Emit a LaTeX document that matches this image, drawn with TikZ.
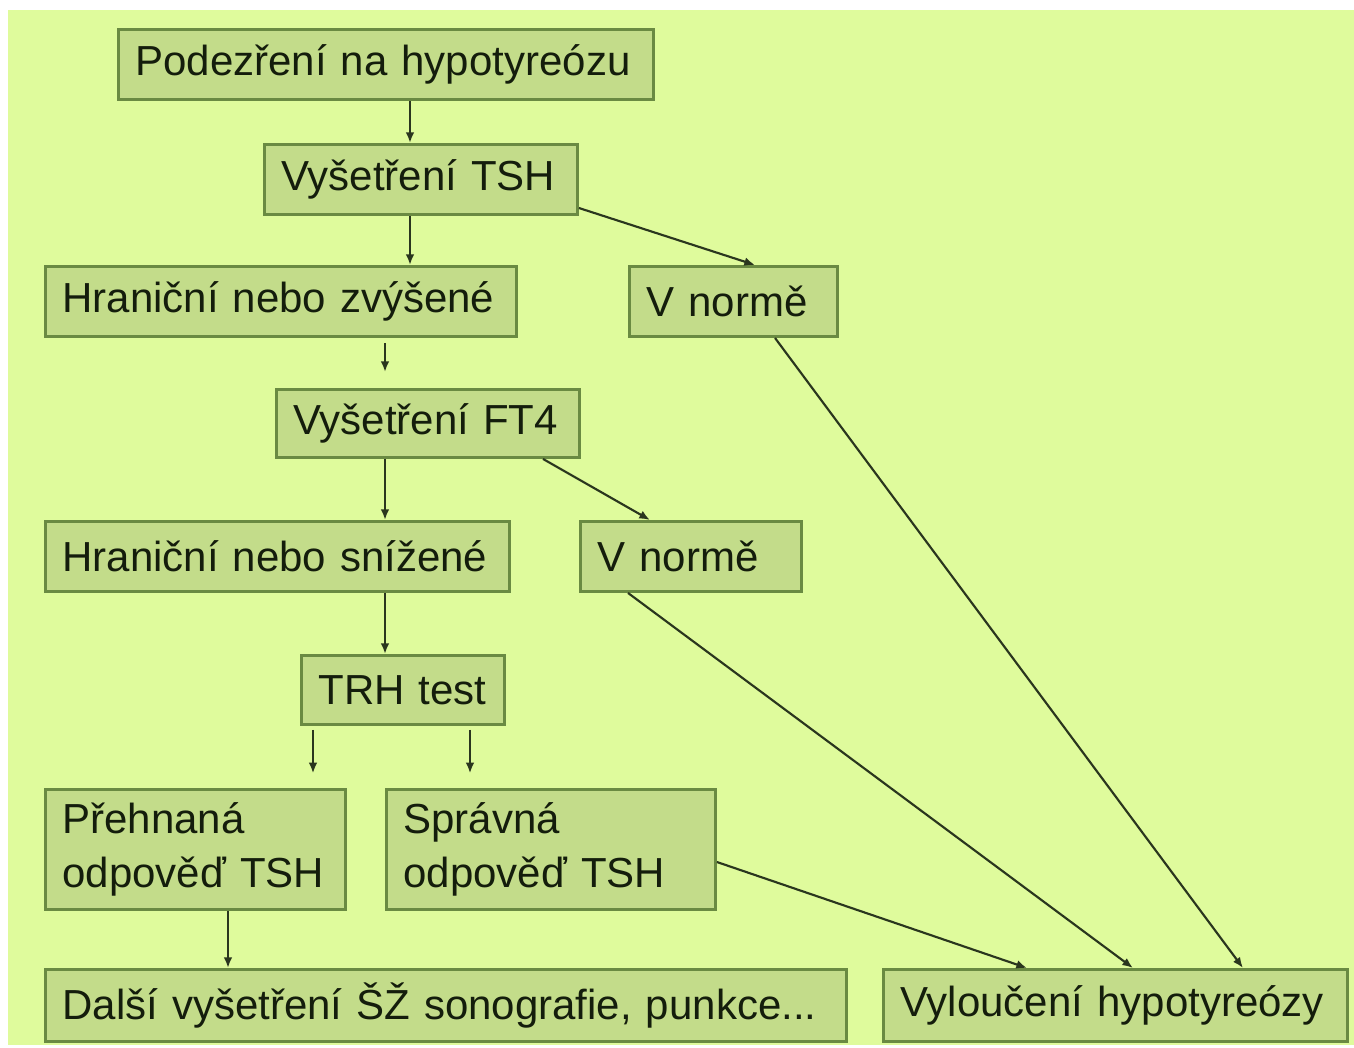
\documentclass[tikz,border=0pt]{standalone}
\usepackage{fontspec}
\setmainfont{Liberation Sans}
\usetikzlibrary{arrows.meta}
\definecolor{Mifondo}{HTML}{DFFB9C}
\definecolor{Micaja}{HTML}{C3DC8A}
\definecolor{Miborde}{HTML}{6A8A42}
\definecolor{Mitexto}{HTML}{141D0C}
\definecolor{Milinea}{HTML}{2A361E}

\begin{document}
\begin{tikzpicture}[x=0.75pt,y=-0.75pt,>={Latex[length=8pt,width=6.5pt]},
 caja/.style={draw=Miborde,line width=2.2pt,fill=Micaja,anchor=north west,inner xsep=12.75pt,inner ysep=0pt,align=left,text=Mitexto,font=\fontsize{31.5}{41}\selectfont},
 flecha/.style={->,draw=Milinea,line width=1.6pt}]
\useasboundingbox[fill=white] (0,0) rectangle (1354,1047);
\fill[Mifondo] (8,10) rectangle (1354,1045);

\node[caja,text width=375.75pt,minimum height=52.5pt] (podezreni) at (117,28) {Podezření na hypotyreózu};
\node[caja,text width=209.25pt,minimum height=52.5pt] (tsh) at (263,143) {Vyšetření TSH};
\node[caja,text width=327.75pt,minimum height=52.5pt] (zvysene) at (44,265) {Hraniční nebo zvýšené};
\node[caja,text width=130.5pt,minimum height=52.5pt] (norma1) at (628,265) {V normě};
\node[caja,text width=201.75pt,minimum height=51pt] (ft4) at (275,388) {Vyšetření FT4};
\node[caja,text width=322.5pt,minimum height=52.5pt] (snizene) at (44,520) {Hraniční nebo snížené};
\node[caja,text width=140.25pt,minimum height=52.5pt] (norma2) at (579,520) {V normě};
\node[caja,text width=126.75pt,minimum height=51.75pt] (trh) at (300,654) {TRH test};
\node[caja,text width=199.5pt,minimum height=90pt] (prehnana) at (44,788) {Přehnaná\\odpověď TSH};
\node[caja,text width=221.25pt,minimum height=90pt] (spravna) at (385,788) {Správná\\odpověď TSH};
\node[caja,text width=575.25pt,minimum height=54pt] (dalsi) at (44,968) {Další vyšetření ŠŽ sonografie, punkce...};
\node[caja,text width=322.5pt,minimum height=54pt] (vylouceni) at (882,968) {Vyloučení hypotyreózy};

\foreach \a/\b/\x in {podezreni/tsh/410, tsh/zvysene/410, ft4/snizene/385, snizene/trh/385, prehnana/dalsi/228}
\draw[flecha] (\a.south -| \x,0) -- (\b.north -| \x,0);
\draw[flecha,shorten <=4pt,shorten >=12pt] (zvysene.south -| 385,0) -- (ft4.north -| 385,0);
\foreach \x in {313,470}
\draw[flecha,shorten <=3pt,shorten >=11pt] (trh.south -| \x,0) -- (spravna.north -| \x,0);

\draw[flecha] (tsh.east |- 0,208) -- (norma1.north -| 755,0);
\draw[flecha] (ft4.south -| 543,0) -- (norma2.north -| 650,0);
\draw[flecha] (norma1.south -| 775,0) -- (vylouceni.north -| 1243,0);
\draw[flecha] (norma2.south -| 628,0) -- (vylouceni.north -| 1133,0);
\draw[flecha] (spravna.east |- 0,862) -- (vylouceni.north -| 1027,0);
\end{tikzpicture}
\end{document}
